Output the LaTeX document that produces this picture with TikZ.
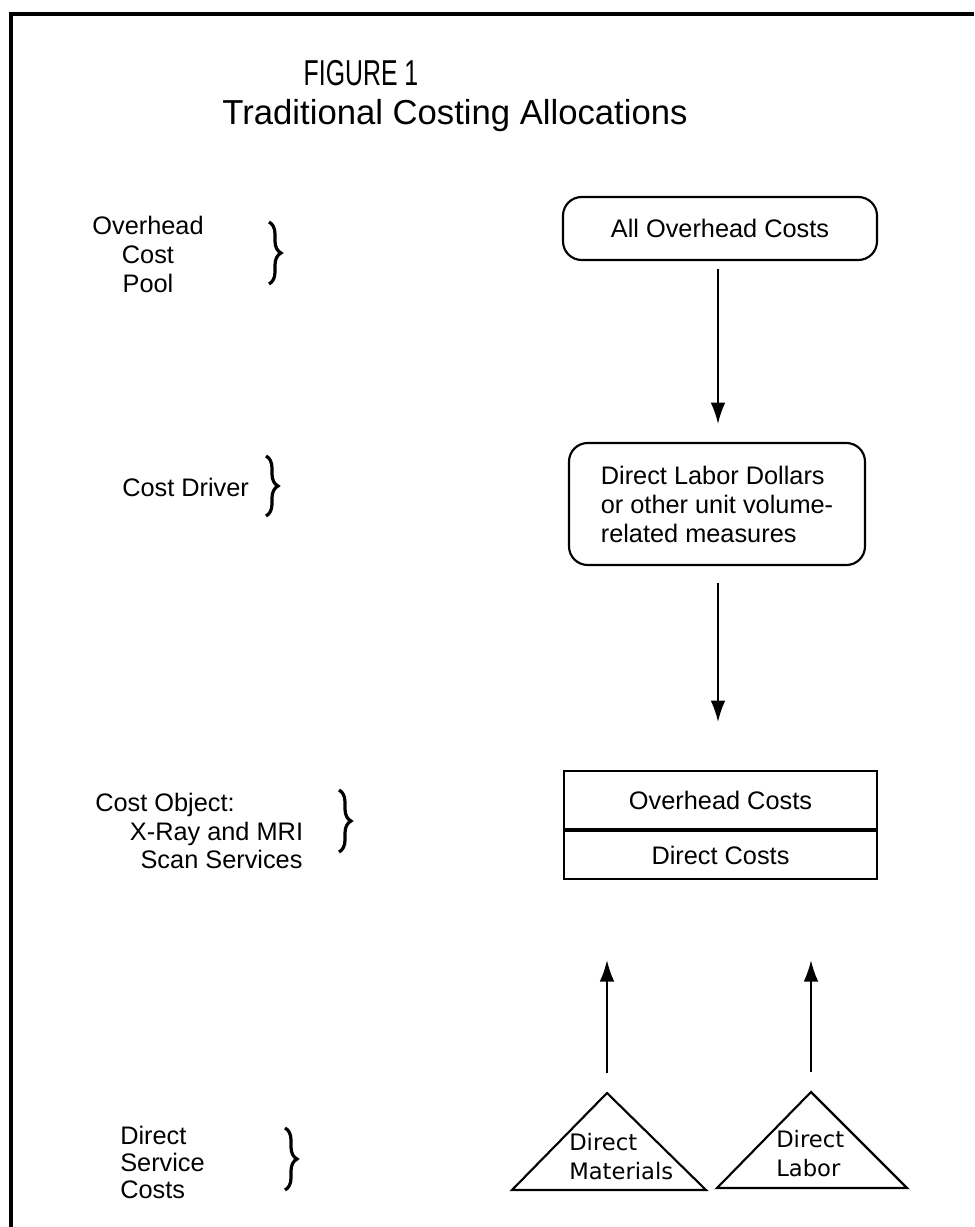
\documentclass[tikz,border=0pt]{standalone}
\usepackage{fontspec}
\setmainfont{Liberation Sans}
\newfontfamily\trifont{DejaVu Sans}
\usetikzlibrary{arrows.meta,decorations.pathreplacing}
\tikzset{
  lbl/.style={font=\fontsize{19}{21.75}\selectfont, inner sep=0pt},
  roundbox/.style={draw, line width=1.6pt, rounded corners=14pt, lbl},
  plainbox/.style={draw, line width=1.6pt, lbl},
  flow/.style={line width=1.4pt, -{Latex[length=16pt,width=11pt]}},
  tri/.style={line width=1.6pt, line join=miter},
  tritext/.style={font=\trifont\fontsize{17}{21.75}\selectfont, align=left, inner sep=0pt},
  bracket/.style={line width=2.4pt, decorate, decoration={brace, amplitude=9pt}},
}
\begin{document}
\begin{tikzpicture}[x=0.75pt,y=-0.75pt]
\useasboundingbox (0,0) rectangle (974,1227);
\fill[white] (0,0) rectangle (974,1227);
% frame
\draw[line width=2.4pt] (974,14) -- (11,14) -- (11,1227);
% title
\node[lbl, font=\fontsize{27}{30}\selectfont] (t1) at (361,73) {\scalebox{0.69}[1]{FIGURE 1}};
\node[lbl, font=\fontsize{26}{30}\selectfont] (t2) at (455,116) {Traditional Costing Allocations};
% right column
\node[roundbox, minimum width=235.5pt, minimum height=47.25pt] (pool) at (720,228.5) {All Overhead Costs};
\node[roundbox, minimum width=222pt, minimum height=91.5pt, align=left] (driver) at (717,504) {Direct Labor Dollars\\or other unit volume-\\related measures};
\node[plainbox, minimum width=234.75pt, minimum height=43.5pt] (ovh) at (720.5,800) {Overhead Costs};
\node[plainbox, minimum width=234.75pt, minimum height=36pt, anchor=north] (dir) at (ovh.south) {Direct Costs};
% triangles
\coordinate (tmA) at (607,1093);
\coordinate (tlA) at (811,1092);
\draw[tri] (tmA) -- (706,1190) -- (512,1190) -- cycle;
\draw[tri] (tlA) -- (907,1188) -- (717,1188) -- cycle;
\node[tritext, anchor=west] (tm) at (569,1157) {Direct\\Materials};
\node[tritext, anchor=west] (tl) at (776,1154) {Direct\\Labor};
% arrows
\draw[flow, shorten <=6pt, shorten >=13.5pt] (pool.south -| 718,0) -- (driver.north -| 718,0);
\draw[flow, shorten <=12.75pt, shorten >=36pt] (driver.south -| 718,0) -- (ovh.north -| 718,0);
\draw[flow, shorten <=15pt, shorten >=60pt] (tmA) -- (dir.south -| tmA);
\draw[flow, shorten <=15pt, shorten >=60pt] (tlA) -- (dir.south -| tlA);
% left labels
\node[lbl, align=center] (l1) at (148,254) {Overhead\\Cost\\Pool};
\node[lbl, anchor=west] (l2) at (122,487) {Cost Driver};
\node[lbl, align=left, anchor=west, font=\fontsize{19}{21.4}\selectfont] (l3) at (95,831) {Cost Object:\\\hspace*{26pt}X-Ray and MRI\\\hspace*{34pt}Scan Services};
\node[lbl, align=left, anchor=west, font=\fontsize{19}{20.25}\selectfont] (l4) at (120,1162) {Direct\\Service\\Costs};
% braces
\coordinate (b1a) at (269,222); \coordinate (b1b) at (269,284);
\coordinate (b2a) at (266,456); \coordinate (b2b) at (266,516);
\coordinate (b3a) at (339,790); \coordinate (b3b) at (339,852);
\coordinate (b4a) at (285,1128); \coordinate (b4b) at (285,1190);
\draw[bracket] (b1a) -- (b1b);
\draw[bracket] (b2a) -- (b2b);
\draw[bracket] (b3a) -- (b3b);
\draw[bracket] (b4a) -- (b4b);
\end{tikzpicture}
\end{document}
